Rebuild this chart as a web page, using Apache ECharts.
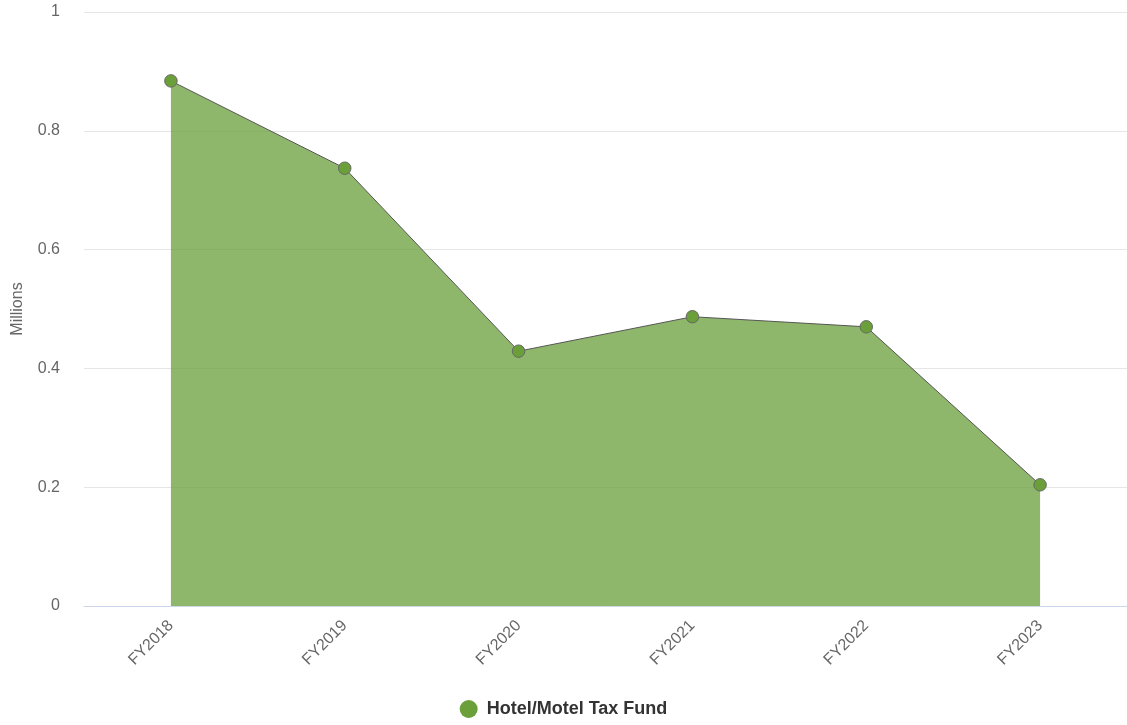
<!DOCTYPE html>
<html><head><meta charset="utf-8">
<script src="https://cdn.jsdelivr.net/npm/echarts@6/dist/echarts.min.js"></script>
<style>html,body{margin:0;padding:0;background:#fff}#c{width:1127px;height:725px}</style>
</head><body><div id="c"></div>
<script>
var categories = ['FY2018','FY2019','FY2020','FY2021','FY2022','FY2023'];
var hotelMotelTaxFund = [0.884, 0.737, 0.429, 0.487, 0.470, 0.204];
var seriesName = 'Hotel/Motel Tax Fund';
var yTicks = [0, 0.2, 0.4, 0.6, 0.8, 1];

var FONT = 'Liberation Sans, Arial, sans-serif';
var chart = echarts.init(document.getElementById('c'));
chart.setOption({
  animation: false,
  grid: { left: 84, right: 0, top: 12, bottom: 119, containLabel: false, outerBoundsMode: 'none' },
  legend: {
    bottom: 2, left: 'center',
    icon: 'circle', itemWidth: 18, itemHeight: 18, itemGap: 10,
    itemStyle: { borderWidth: 0, color: '#6a9f3a' },
    textStyle: { fontFamily: FONT, fontSize: 18, fontWeight: 'bold', color: '#333', padding: [0, 0, 0, 4] },
    data: [seriesName]
  },
  xAxis: {
    type: 'category', data: categories, boundaryGap: true,
    axisLine: { lineStyle: { color: '#ccd6eb' } },
    axisTick: { show: false },
    axisLabel: { rotate: 45, color: '#666', fontSize: 16, fontFamily: FONT, margin: 17 }
  },
  yAxis: {
    type: 'value', min: yTicks[0], max: yTicks[yTicks.length - 1], interval: 0.2,
    name: 'Millions', nameLocation: 'middle', nameGap: 58, nameRotate: 90,
    nameTextStyle: { color: '#666', fontSize: 16, fontFamily: FONT },
    axisLine: { show: false }, axisTick: { show: false },
    splitLine: { lineStyle: { color: '#e6e6e6' } },
    axisLabel: { color: '#666', fontSize: 16, fontFamily: FONT, margin: 24,
      formatter: function (v) { return String(Math.round(v * 10) / 10); } }
  },
  series: [{
    name: seriesName, type: 'line', data: hotelMotelTaxFund,
    symbol: 'circle', symbolSize: 12.5,
    itemStyle: { color: '#6a9f3a', borderColor: '#666', borderWidth: 1 },
    lineStyle: { color: '#555', width: 1 },
    areaStyle: { color: '#6a9f3a', opacity: 0.75 }
  }]
});
</script></body></html>
